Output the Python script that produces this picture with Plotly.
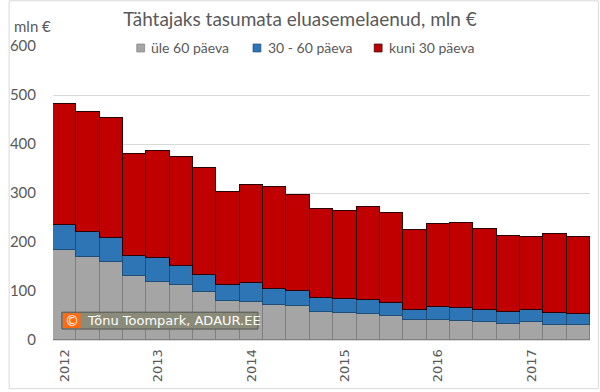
import plotly.graph_objects as go

quarters = [f"{y}Q{q}" for y in range(2012, 2018) for q in range(1, 5)][:23]
tick_years = ["2012", "2013", "2014", "2015", "2016", "2017"]
tick_quarters = ["2012Q1", "2013Q1", "2014Q1", "2015Q1", "2016Q1", "2017Q1"]

ule_60 = [183, 170, 160, 130, 118, 112, 98, 79, 78, 72, 69, 57, 55, 53, 50, 40, 40, 38, 36, 33, 36, 31, 30]
vahemik_30_60 = [51, 51, 48, 42, 50, 40, 35, 33, 38, 32, 31, 29, 28, 28, 25, 22, 28, 27, 25, 24, 25, 24, 23]
kuni_30 = [247, 244, 245, 207, 218, 221, 219, 190, 200, 208, 195, 181, 181, 191, 185, 163, 169, 173, 165, 156, 150, 161, 158]

series_names = ["üle 60 päeva", "30 - 60 päeva", "kuni 30 päeva"]
series_colors = ["#a5a5a5", "#2e75b6", "#c00000"]
series_lines = ["#7f7f7f", "#1f4e79", "#2a0000"]

L, R, T, B = 45, 10, 46, 50
W, H = 600, 392
PW, PH = W - L - R, H - T - B

def px(x):
    return (x - L) / PW

def py(y):
    return (H - B - y) / PH

TXT = "#595959"
fig = go.Figure()
for vals, name, col, lc in zip([ule_60, vahemik_30_60, kuni_30], series_names, series_colors, series_lines):
    fig.add_trace(go.Bar(x=quarters, y=vals, name=name, showlegend=False,
                         marker=dict(color=col, line=dict(color=lc, width=1))))

fig.update_layout(
    width=W, height=H,
    margin=dict(l=L, r=R, t=T, b=B),
    barmode="stack", bargap=0,
    paper_bgcolor="white", plot_bgcolor="white",
    font=dict(family="Lato", color=TXT),
    title=dict(text="Tähtajaks tasumata eluasemelaenud, mln €", x=0.5, xanchor="center",
               y=1 - 19 / H, yanchor="middle", font=dict(family="Lato", size=19, color=TXT)),
    xaxis=dict(type="category", tickvals=tick_quarters, ticktext=tick_years, tickangle=-90,
               tickfont=dict(family="DejaVu Sans", size=13, color=TXT), showgrid=False,
               showline=True, linecolor="#d9d9d9", ticks="", range=[-0.5, 22.5],
               ticklabelstandoff=3),
    yaxis=dict(range=[0, 600], dtick=100, showgrid=True, gridcolor="#d9d9d9", gridwidth=1,
               tickfont=dict(family="Lato", size=15, color=TXT), ticks="",
               ticklabelstandoff=16, zeroline=False),
    showlegend=False,
)

shapes = [
    dict(type="rect", xref="paper", yref="paper", x0=px(0.5), x1=px(598.5), y0=py(391), y1=py(0.5),
         line=dict(color="#d9d9d9", width=1), fillcolor="rgba(0,0,0,0)", layer="above"),
    dict(type="rect", xref="paper", yref="paper", x0=px(54), x1=px(253), y0=py(331), y1=py(314),
         line=dict(color="#555555", width=1), fillcolor="#8b8b79", layer="above"),
    dict(type="rect", xref="paper", yref="paper", x0=px(55), x1=px(73), y0=py(330), y1=py(315),
         line=dict(width=0), fillcolor="#ff6a13", layer="above"),
    # legend background
    dict(type="rect", xref="paper", yref="paper", x0=px(126), x1=px(478), y0=py(55), y1=py(40),
         line=dict(width=0), fillcolor="white", layer="above"),
]

# legend (custom, Excel style)
leg_sq_x = [130, 248, 371]
leg_txt_x = [142, 261, 384]
for sx, tx, name, col, lc in zip(leg_sq_x, leg_txt_x, series_names, series_colors, series_lines):
    shapes.append(dict(type="rect", xref="paper", yref="paper", x0=px(sx), x1=px(sx + 8),
                       y0=py(52), y1=py(44), line=dict(color=lc, width=0.7), fillcolor=col, layer="above"))
    fig.add_annotation(text=name, xref="paper", yref="paper", x=px(tx), y=py(47.5),
                       xanchor="left", yanchor="middle", showarrow=False,
                       font=dict(family="Lato", size=14, color=TXT))
fig.update_layout(shapes=shapes)

fig.add_annotation(text="mln €", xref="paper", yref="paper", x=px(3), y=py(26),
                   xanchor="left", yanchor="middle", showarrow=False,
                   font=dict(family="Lato", size=15, color=TXT))
fig.add_annotation(text="©", xref="paper", yref="paper", x=px(64), y=py(322.5),
                   xanchor="center", yanchor="middle", showarrow=False,
                   font=dict(family="DejaVu Sans", size=14, color="white"))
fig.add_annotation(text="Tõnu Toompark, ADAUR.EE", xref="paper", yref="paper", x=px(77), y=py(322.5),
                   xanchor="left", yanchor="middle", showarrow=False,
                   font=dict(family="DejaVu Sans", size=13, color="white"))

fig.write_html("out.html", config={"displayModeBar": False},
               post_script="document.body.style.margin='0';document.body.style.overflow='hidden';")
